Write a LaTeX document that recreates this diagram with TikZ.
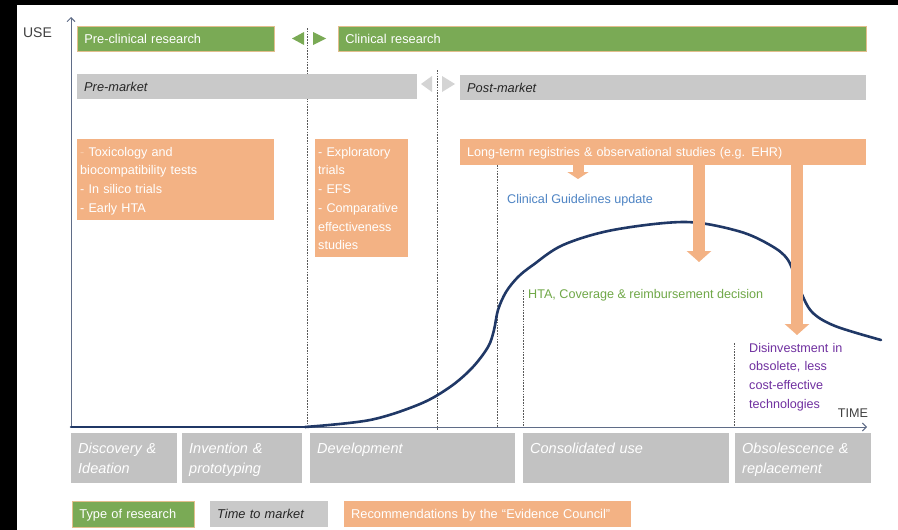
\documentclass[tikz,border=0pt]{standalone}
\usepackage{fontspec}
\setmainfont{Liberation Sans}
\usetikzlibrary{arrows.meta}
\definecolor{resgreen}{RGB}{122,170,85}
\definecolor{resedge}{RGB}{226,190,140}
\definecolor{mktgrey}{RGB}{201,201,201}
\definecolor{phasegrey}{RGB}{194,194,194}
\definecolor{recorange}{RGB}{243,178,132}
\definecolor{recdash}{RGB}{250,204,170}
\definecolor{curveblue}{RGB}{32,56,102}
\definecolor{axisgrey}{RGB}{95,108,135}
\definecolor{cglblue}{RGB}{78,132,196}
\definecolor{htagreen}{RGB}{112,168,72}
\definecolor{disinvpurple}{RGB}{112,48,160}
\newcommand{\bartext}{\fontsize{12.8}{15}\selectfont}
\newcommand{\rectext}{\fontsize{12.6}{18.7}\selectfont}
\newcommand{\phasetext}{\fontsize{14.5}{20}\selectfont\itshape}

\begin{document}
\begin{tikzpicture}[x=1pt,y=-1pt,
  bar/.style={anchor=north west,inner xsep=7pt,inner ysep=0pt,minimum height=25pt,
    text height=10.5pt,text depth=1.5pt,align=left,font=\bartext},
  resbar/.style={bar,fill=resgreen,draw=resedge,line width=0.8pt,text=white},
  mktbar/.style={bar,fill=mktgrey,text=black!85,font=\bartext\itshape},
  recbar/.style={bar,fill=recorange,text=white,font=\rectext},
  recbox/.style={anchor=north west,fill=recorange,text=white,inner xsep=3pt,inner ysep=0pt,
    text height=17pt,align=left,font=\rectext},
  phase/.style={anchor=north west,fill=phasegrey,text=white,inner xsep=7pt,inner ysep=0pt,
    text height=20pt,text depth=30pt,align=left,font=\phasetext},
  guide/.style={black!65,line width=0.8pt,dash pattern=on 1.6pt off 1.2pt},
  axis/.style={axisgrey,line width=0.9pt,-{Straight Barb[length=4pt,width=8pt]}},
  fat/.style={recorange,line width=12pt,-{Triangle[width=24pt,length=11pt]}},
  curve/.style={curveblue,line width=2.6pt,line cap=round,line join=round},
  lbl/.style={inner sep=0pt,font=\rectext}]
  \useasboundingbox (0,0) rectangle (898,530);
  \fill[black] (0,0) rectangle (898,530);
  \fill[white] (17,5) rectangle (898,530);

  % phase separators
  \draw[guide] (307,28) -- (307,427);
  \draw[guide] (437,70) -- (437,431);
  \draw[guide] (497,165) -- (497,427);
  \draw[guide] (523,290) -- (523,428);
  \draw[guide] (734,343) -- (734,428);

  \coordinate (o) at (71,427);
  \draw[axis] (o) -- (71,17);
  \draw[axis] (o) -- (867,427);
  \node[lbl,font=\fontsize{14}{16}\selectfont,text=black!75] (use) at (37.5,33) {USE};
  \node[lbl,text=black!75] (time) at (853,413) {TIME};

  % adoption curve
  \draw[curve] (o) -- (305,427);
  \draw[curve] plot[smooth,tension=0.55] coordinates {
    (305,427) (370,420) (420,404) (450,387) (472,368) (488,347)
    (494,330) (498,310) (506,292) (518,277) (533,265) (563,245) (613,230) (685,222)
    (738,231) (770,245) (788,260) (800,290) (812,312) (835,326) (881,340)};

  \node[resbar,text width=183pt] (precl) at (77,26) {Pre-clinical research};
  \node[resbar,text width=514pt] (clin) at (338,26) {Clinical research};
  \fill[resgreen] (304,32) -- (304,45) -- (292,38.5) -- cycle;
  \fill[resgreen] (313,32) -- (313,45) -- (326,38.5) -- cycle;

  \node[mktbar,text width=326pt] (premkt) at (77,74) {Pre-market};
  \node[mktbar,text width=392pt] (postmkt) at (460,75) {Post-market};
  \fill[mktgrey!80] (432,76) -- (432,92) -- (421,84) -- cycle;
  \fill[mktgrey!80] (442,76) -- (442,92) -- (455,84) -- cycle;

  \node[recbox,text width=191pt,text depth=64pt] (tox) at (77,139)
    {\textcolor{recdash}{-} Toxicology and\\biocompatibility tests\\- In silico trials\\- Early HTA};
  \node[recbox,text width=87pt,text depth=101pt] (explo) at (315,139)
    {- Exploratory\\trials\\- EFS\\- Comparative\\effectiveness\\studies};
  \node[recbar,minimum height=26pt,text width=392pt] (reg) at (460,139)
    {Long-term registries \& observational studies (e.g. EHR)};

  \coordinate (cgtip) at (578,179);
  \coordinate (htatip) at (699,262);
  \coordinate (distip) at (797,335);
  \draw[fat,line width=11pt,-{Triangle[width=21pt,length=7pt]}] (reg.south -| cgtip) -- (cgtip);
  \draw[fat] (reg.south -| htatip) -- (htatip);
  \draw[fat] (reg.south -| distip) -- (distip);

  \node[lbl,anchor=west,text=cglblue] (cgl) at (507,200) {Clinical Guidelines update};
  \node[lbl,anchor=west,text=htagreen] (hta) at (528,295) {HTA, Coverage \& reimbursement decision};
  \node[lbl,anchor=north west,text=disinvpurple,align=left,text width=110pt,text height=13pt]
    (disinv) at (749,339) {Disinvestment in\\obsolete, less\\cost-effective\\technologies};

  \node[phase,text width=92pt] (disc) at (71,433) {Discovery \&\\Ideation};
  \node[phase,text width=106pt] (inv) at (182,433) {Invention \&\\prototyping};
  \node[phase,text width=191pt] (dev) at (310,433) {Development};
  \node[phase,text width=192pt] (cons) at (523,433) {Consolidated use};
  \node[phase,text width=122pt] (obs) at (735,433) {Obsolescence \&\\replacement};

  % legend
  \node[resbar,minimum height=26pt,text width=108pt] (ltype) at (72,501) {Type of research};
  \node[mktbar,minimum height=26pt,text width=104pt] (ltime) at (210,501) {Time to market};
  \node[recbar,font=\bartext,minimum height=26pt,text width=273pt] (lrec) at (344,501)
    {Recommendations by the “Evidence Council”};
\end{tikzpicture}
\end{document}
